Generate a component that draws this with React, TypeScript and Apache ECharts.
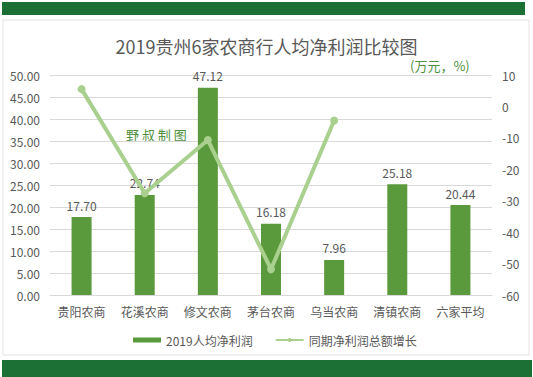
import React, { useEffect, useRef } from "react";
import * as echarts from "echarts";

const categories = ["贵阳农商", "花溪农商", "修文农商", "茅台农商", "乌当农商", "清镇农商", "六家平均"];
const perCapitaProfit = [17.7, 22.74, 47.12, 16.18, 7.96, 25.18, 20.44];
const totalProfitGrowth: (number | null)[] = [5.5, -27.6, -10.7, -51.8, -4.5, null, null];
const leftTicks = { min: 0, max: 50, interval: 5 };
const rightTicks = { min: -60, max: 10, interval: 10 };

const FONT = "'Noto Sans CJK SC', 'Noto Sans', sans-serif";
const TXT = "#595959";

export default function App() {
  const ref = useRef<HTMLDivElement>(null);
  useEffect(() => {
    document.body.style.margin = "0";
    const chart = echarts.init(ref.current!, null, { renderer: "svg" });
    chart.setOption({
      animation: false,
      backgroundColor: "#ffffff",
      textStyle: { fontFamily: FONT },
      graphic: [
        { type: "rect", z: -10, shape: { x: 2, y: 2, width: 523, height: 13 }, style: { fill: "#1c6f35" } },
        { type: "rect", z: -10, shape: { x: 3, y: 20, width: 526, height: 335 }, style: { fill: "#ffffff", stroke: "#e3e3e3", lineWidth: 1 } },
        { type: "rect", z: -10, shape: { x: 2, y: 360, width: 530, height: 17 }, style: { fill: "#1c6f35" } },
        { type: "text", x: 410, y: 65, style: { text: "(万元，%)", fill: "#4f9040", font: `13px ${FONT}`, textVerticalAlign: "middle" } },
        { type: "text", x: 126, y: 134, style: { text: "野 叔 制 图", fill: "#4f9040", font: `13px ${FONT}`, textVerticalAlign: "middle" } },
      ],
      title: {
        text: "2019贵州6家农商行人均净利润比较图",
        left: "center",
        top: 32,
        textStyle: { color: TXT, fontSize: 18, fontWeight: "normal", fontFamily: FONT },
      },
      legend: {
        top: 329,
        left: 128,
        itemGap: 22,
        itemWidth: 28,
        itemHeight: 5,
        textStyle: { color: TXT, fontSize: 12, fontFamily: FONT },
        data: [
          { name: "2019人均净利润", icon: "rect" },
          { name: "同期净利润总额增长" },
        ],
      },
      grid: { left: 50, right: 41, top: 75, bottom: 82 },
      xAxis: {
        type: "category",
        data: categories,
        axisLine: { lineStyle: { color: "#d9d9d9" } },
        axisTick: { show: false },
        axisLabel: { color: TXT, fontSize: 12, margin: 10, fontFamily: FONT },
      },
      yAxis: [
        {
          type: "value",
          ...leftTicks,
          axisLine: { show: false },
          axisTick: { show: false },
          splitLine: { lineStyle: { color: "#d9d9d9" } },
          axisLabel: { color: TXT, fontSize: 12, margin: 10, formatter: (v: number) => v.toFixed(2), fontFamily: FONT },
        },
        {
          type: "value",
          ...rightTicks,
          axisLine: { show: false },
          axisTick: { show: false },
          splitLine: { show: false },
          axisLabel: { color: TXT, fontSize: 12, margin: 10, fontFamily: FONT },
        },
      ],
      series: [
        {
          name: "2019人均净利润",
          type: "bar",
          data: perCapitaProfit,
          barWidth: 20,
          itemStyle: { color: "#5b9a3c" },
          label: { show: true, position: "top", distance: 6, color: TXT, fontSize: 12, formatter: (p: any) => p.value.toFixed(2), fontFamily: FONT },
        },
        {
          name: "同期净利润总额增长",
          type: "line",
          yAxisIndex: 1,
          data: totalProfitGrowth,
          symbol: "circle",
          symbolSize: 8,
          lineStyle: { color: "#a9d08e", width: 4 },
          itemStyle: { color: "#a9d08e" },
          z: 3,
        },
      ],
    });
    return () => chart.dispose();
  }, []);
  return <div ref={ref} style={{ position: "fixed", left: 0, top: 0, width: 533, height: 377 }} />;
}
